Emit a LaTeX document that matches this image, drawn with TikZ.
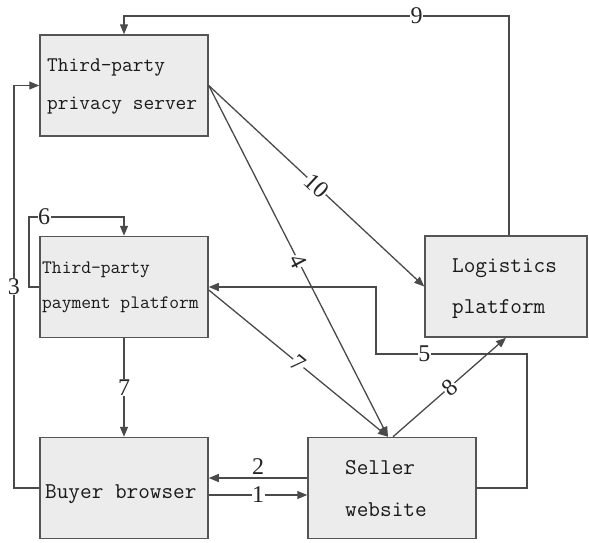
\documentclass[tikz,border=0pt]{standalone}
\usepackage{fontspec}
\setmainfont{Liberation Serif}
\usetikzlibrary{arrows.meta}
\definecolor{boxfill}{HTML}{ECECEC}
\definecolor{boxline}{HTML}{555555}
\definecolor{conn}{HTML}{4A4A4A}
\begin{document}
\begin{tikzpicture}[x=1pt,y=-1pt,
  blk/.style={draw=boxline,fill=boxfill,line width=1.5pt,minimum height=101pt,inner sep=0pt},
  txt/.style={anchor=west,inner sep=0pt,text=black!90},
  conline/.style={draw=conn,line width=1.3pt},
  arr/.style={conline,-{Triangle[length=10pt,width=8pt]}},
  lbl/.style={fill=white,inner sep=0.5pt,font=\fontsize{24}{24}\selectfont,text=black!85}]
\useasboundingbox (0,0) rectangle (589,542);
% boxes
\node[blk,minimum width=168pt] (priv) at (124,85.5) {};
\node[blk,minimum width=168pt] (pay) at (124,287) {};
\node[blk,minimum width=162pt] (log) at (506,286.5) {};
\node[blk,minimum width=168pt] (buy) at (124,488) {};
\node[blk,minimum width=168pt] (sel) at (392,488) {};
% texts
\node[txt,font=\ttfamily\fontsize{20.8}{20.8}\selectfont] (t1) at (47,68) {Third-party};
\node[txt,font=\ttfamily\fontsize{20.8}{20.8}\selectfont] (t2) at (47,106) {privacy server};
\node[txt,font=\ttfamily\fontsize{19}{19}\selectfont] (t3) at (42,270) {Third-party};
\node[txt,font=\ttfamily\fontsize{19}{19}\selectfont] (t4) at (42,305) {payment platform};
\node[txt,font=\ttfamily\fontsize{22.6}{22.6}\selectfont] (t5) at (452,268) {Logistics};
\node[txt,font=\ttfamily\fontsize{22.6}{22.6}\selectfont] (t6) at (452,309) {platform};
\node[txt,font=\ttfamily\fontsize{22.6}{22.6}\selectfont] (t7) at (45,494) {Buyer browser};
\node[txt,font=\ttfamily\fontsize{22.6}{22.6}\selectfont] (t8) at (345,468) {Seller};
\node[txt,font=\ttfamily\fontsize{22.6}{22.6}\selectfont] (t9) at (345,510) {website};
% connectors
\draw[arr] ([xshift=3pt]log.north) -- (509,16) -- node[lbl,pos=0.24] {9} (124,16) -- (priv.north);
\draw[arr] (buy.west) -- (14,488) -- node[lbl] {3} (14,85.5) -- (priv.west);
\draw[arr] (pay.west) -- (29,287) -- (29,217) -- node[lbl,pos=0.16] {6} (124,217) -- (pay.north);
\draw[arr] (pay.south) -- node[lbl] {7} (buy.north);
\draw[arr] ([yshift=10pt]sel.west) -- node[lbl,above=2pt,fill=none] {2} ([yshift=10pt]buy.east);
\draw[arr] ([yshift=-7pt]buy.east) -- node[lbl] {1} ([yshift=-7pt]sel.west);
\draw[arr] (priv.east) -- node[lbl,sloped] {10} (log.west);
\draw[arr] (priv.east) -- node[lbl,sloped] {4} ([xshift=-4pt]sel.north);
\draw[arr] ([yshift=-3pt]pay.east) -- node[lbl,sloped] {7} ([xshift=-4pt]sel.north);
\draw[arr] ([xshift=1pt]sel.north) -- node[lbl,sloped] {8} (log.south);
\draw[arr] (sel.east) -- (527,488) -- (527,354) -- node[lbl,pos=0.68] {5} (376,354) -- (376,287) -- (pay.east);
\end{tikzpicture}
\end{document}
